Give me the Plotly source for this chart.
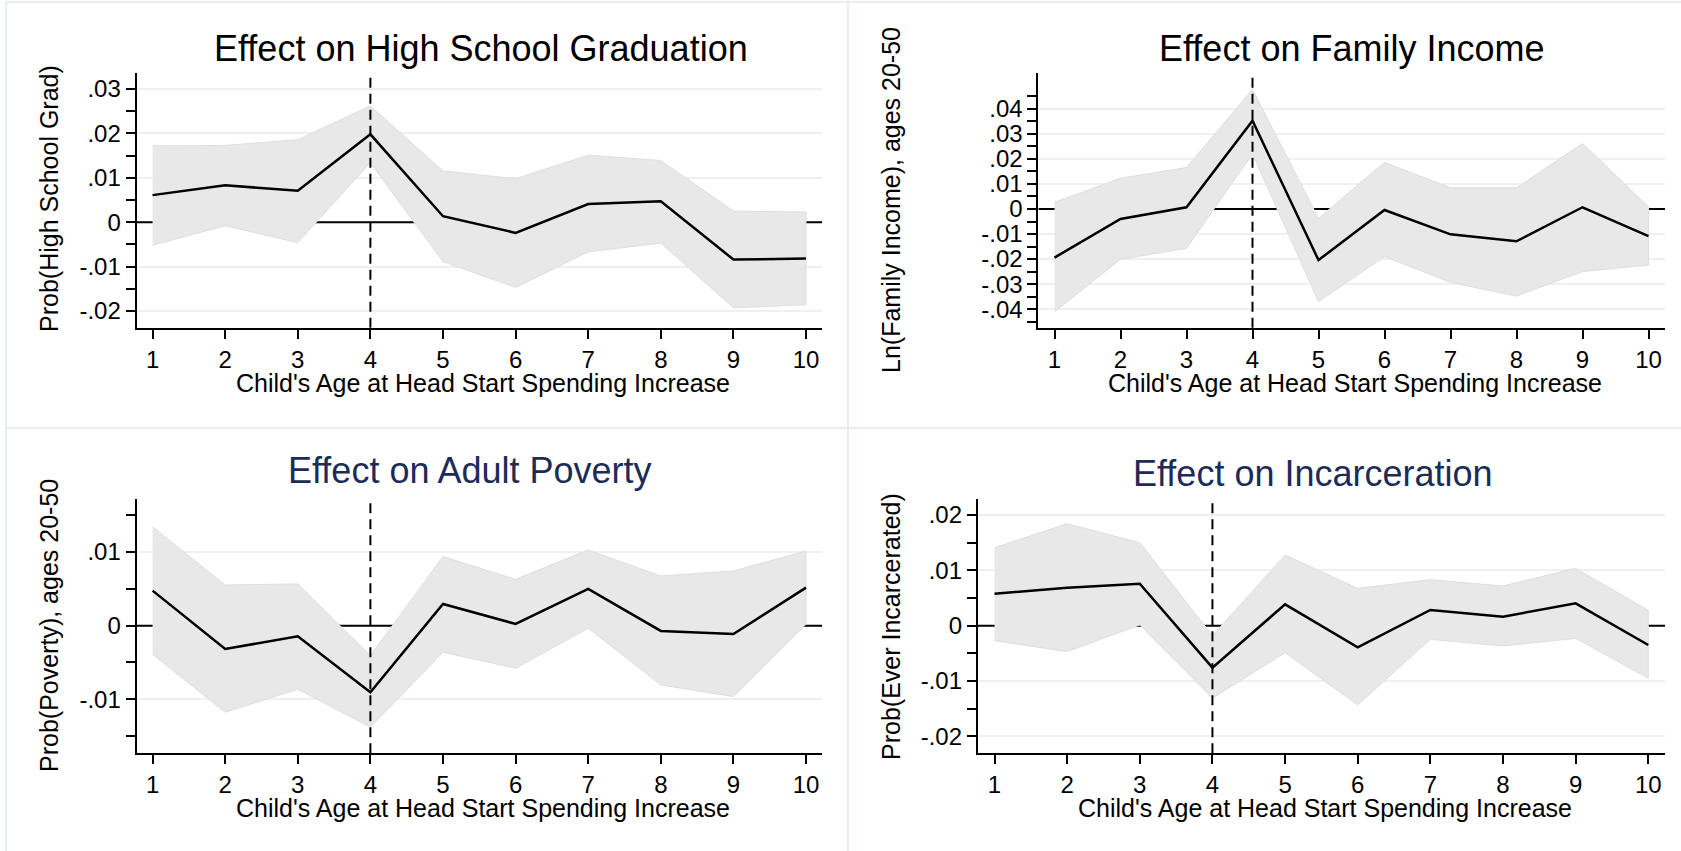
import plotly.graph_objects as go

W, H = 1681, 851

ages = [1, 2, 3, 4, 5, 6, 7, 8, 9, 10]
age_labels = ["1", "2", "3", "4", "5", "6", "7", "8", "9", "10"]

# Effect on High School Graduation
hs_est = [0.0061, 0.0083, 0.0071, 0.0198, 0.00135, -0.0024, 0.0041, 0.0047, -0.0084, -0.0082]
hs_hi = [0.0172, 0.0173, 0.0186, 0.0262, 0.01155, 0.0098, 0.0151, 0.0139, 0.0025, 0.0023]
hs_lo = [-0.0052, -0.0008, -0.0046, 0.0134, -0.0089, -0.0147, -0.0067, -0.0047, -0.0193, -0.0186]

# Effect on Family Income
inc_est = [-0.0194, -0.0040, 0.0007, 0.0353, -0.0204, -0.0004, -0.0101, -0.0129, 0.0007, -0.0108]
inc_hi = [0.0027, 0.0123, 0.0166, 0.0478, -0.0037, 0.0186, 0.0085, 0.0085, 0.0262, 0.0009]
inc_lo = [-0.0411, -0.0201, -0.0157, 0.0220, -0.0370, -0.0190, -0.0293, -0.0348, -0.0250, -0.0224]

# Effect on Adult Poverty
pov_est = [0.00475, -0.00317, -0.00145, -0.00905, 0.00294, 0.00023, 0.00498, -0.00072, -0.00113, 0.00516]
pov_hi = [0.01344, 0.00552, 0.00566, -0.00407, 0.00937, 0.00629, 0.01027, 0.00674, 0.00742, 0.01014]
pov_lo = [-0.00389, -0.01176, -0.00864, -0.0138, -0.00362, -0.00579, -0.00036, -0.00805, -0.00964, 0.0002]

# Effect on Incarceration
jail_est = [0.00577, 0.00686, 0.00758, -0.00758, 0.00385, -0.00391, 0.00283, 0.00162, 0.00403, -0.00349]
jail_hi = [0.01408, 0.01841, 0.01498, -0.0018, 0.01275, 0.00674, 0.0083, 0.00716, 0.01035, 0.00277]
jail_lo = [-0.00271, -0.00469, 0.00012, -0.01311, -0.00487, -0.01432, -0.00247, -0.00367, -0.00229, -0.0095]

# y tick values / labels
hs_ticks = [-0.02, -0.01, 0, 0.01, 0.02, 0.03]
hs_ticklabels = ["-.02", "-.01", "0", ".01", ".02", ".03"]
hs_minor = [-0.015, -0.005, 0.005, 0.015, 0.025]

inc_ticks = [-0.04, -0.03, -0.02, -0.01, 0, 0.01, 0.02, 0.03, 0.04]
inc_ticklabels = ["-.04", "-.03", "-.02", "-.01", "0", ".01", ".02", ".03", ".04"]
inc_minor = [-0.045, -0.035, -0.025, -0.015, -0.005, 0.005, 0.015, 0.025, 0.035, 0.045]

pov_ticks = [-0.01, 0, 0.01]
pov_ticklabels = ["-.01", "0", ".01"]
pov_minor = [-0.015, -0.005, 0.005, 0.015]

jail_ticks = [-0.02, -0.01, 0, 0.01, 0.02]
jail_ticklabels = ["-.02", "-.01", "0", ".01", ".02"]
jail_minor = [-0.015, -0.005, 0.005, 0.015]

titles = ["Effect on High School Graduation", "Effect on Family Income",
          "Effect on Adult Poverty", "Effect on Incarceration"]
ytitles = ["Prob(High School Grad)", "Ln(Family Income), ages 20-50",
           "Prob(Poverty), ages 20-50", "Prob(Ever Incarcerated)"]
xtitle = "Child's Age at Head Start Spending Increase"
event_age = 4
zero_level = 0

FONT = "Liberation Sans, Arial, Helvetica, sans-serif"
NAVY = "#1c2b57"
GRID = "#EAF2F3"
BAND = "#E8E8E8"

panels = [
    dict(est=hs_est, hi=hs_hi, lo=hs_lo, ticks=hs_ticks, labels=hs_ticklabels, minor=hs_minor,
         px=(136.6, 822), py=(73.3, 327.7), xr=(0.78, 10.22), yr=(-0.02376, 0.03354),
         tcol="black", tpos=(481, 48), ytpos=(49, 199), xtpos=(483, 383)),
    dict(est=inc_est, hi=inc_hi, lo=inc_lo, ticks=inc_ticks, labels=inc_ticklabels, minor=inc_minor,
         px=(1038.4, 1665), py=(73.3, 327.7), xr=(0.756, 10.25), yr=(-0.0474, 0.0542),
         tcol="black", tpos=(1352, 48), ytpos=(891, 200), xtpos=(1355, 383)),
    dict(est=pov_est, hi=pov_hi, lo=pov_lo, ticks=pov_ticks, labels=pov_ticklabels, minor=pov_minor,
         px=(136.6, 822), py=(499, 753.3), xr=(0.78, 10.22), yr=(-0.01733, 0.01719),
         tcol=NAVY, tpos=(469.5, 470), ytpos=(49, 626), xtpos=(483, 808)),
    dict(est=jail_est, hi=jail_hi, lo=jail_lo, ticks=jail_ticks, labels=jail_ticklabels, minor=jail_minor,
         px=(977.8, 1665), py=(499, 753.3), xr=(0.77, 10.23), yr=(-0.02304, 0.02286),
         tcol=NAVY, tpos=(1313, 473), ytpos=(891, 626), xtpos=(1325, 808)),
]

fig = go.Figure()
shapes = []
annotations = []
layout = {}

for i, p in enumerate(panels):
    n = "" if i == 0 else str(i + 1)
    xref, yref = "x" + n, "y" + n
    # zero reference line (drawn first, so it sits behind the band)
    fig.add_trace(go.Scatter(
        x=list(p["xr"]), y=[zero_level, zero_level], mode="lines",
        line=dict(color="black", width=2), cliponaxis=True,
        xaxis=xref, yaxis=yref, hoverinfo="skip", showlegend=False))
    # confidence band
    fig.add_trace(go.Scatter(
        x=ages + ages[::-1], y=p["hi"] + p["lo"][::-1],
        fill="toself", fillcolor=BAND, mode="lines",
        line=dict(color="#DEDEDE", width=1),
        xaxis=xref, yaxis=yref, hoverinfo="skip", showlegend=False))
    # point estimates
    fig.add_trace(go.Scatter(
        x=ages, y=p["est"], mode="lines",
        line=dict(color="black", width=2.5),
        xaxis=xref, yaxis=yref, showlegend=False))

    x0, x1 = p["px"][0] / W, p["px"][1] / W
    y1, y0 = 1 - p["py"][0] / H, 1 - p["py"][1] / H
    layout["xaxis" + n] = dict(
        domain=[x0, x1], range=list(p["xr"]), anchor=yref,
        tickmode="array", tickvals=ages, ticktext=age_labels,
        ticks="outside", ticklen=9, tickwidth=2, tickcolor="black",
        showline=True, linecolor="black", linewidth=2,
        showgrid=False, zeroline=False,
        tickfont=dict(family=FONT, size=24, color="black"),
        fixedrange=True)
    layout["yaxis" + n] = dict(
        domain=[y0, y1], range=list(p["yr"]), anchor=xref,
        tickmode="array", tickvals=p["ticks"], ticktext=p["labels"],
        ticks="outside", ticklen=9, tickwidth=2, tickcolor="black",
        showline=True, linecolor="black", linewidth=2,
        showgrid=True, gridcolor=GRID, gridwidth=2, zeroline=False,
        minor=dict(tickmode="array", tickvals=p["minor"], ticks="outside",
                   ticklen=9, tickwidth=2, tickcolor="black", showgrid=False),
        tickfont=dict(family=FONT, size=24, color="black"),
        fixedrange=True)

    # vertical dashed line at age 4
    shapes.append(dict(type="line", xref=xref, yref=yref + " domain",
                       x0=event_age, x1=event_age, y0=0, y1=1, layer="above",
                       line=dict(color="black", width=2, dash="10px,6px")))

    annotations.append(dict(text=titles[i], xref="paper", yref="paper",
                            x=p["tpos"][0] / W, y=1 - p["tpos"][1] / H,
                            xanchor="center", yanchor="middle", showarrow=False,
                            font=dict(family=FONT, size=36, color=p["tcol"])))
    annotations.append(dict(text=ytitles[i], xref="paper", yref="paper",
                            x=p["ytpos"][0] / W, y=1 - p["ytpos"][1] / H, textangle=-90,
                            xanchor="center", yanchor="middle", showarrow=False,
                            font=dict(family=FONT, size=25, color="black")))
    annotations.append(dict(text=xtitle, xref="paper", yref="paper",
                            x=p["xtpos"][0] / W, y=1 - p["xtpos"][1] / H,
                            xanchor="center", yanchor="middle", showarrow=False,
                            borderpad=0,
                            font=dict(family=FONT, size=25, color="black")))

# light panel frames
BORDER = "#E6EEF1"
for xp in (6, 848):
    shapes.append(dict(type="line", xref="paper", yref="paper", x0=xp / W, x1=xp / W,
                       y0=0, y1=1 - 2 / H, layer="below", line=dict(color=BORDER, width=2)))
for yp in (2, 428):
    shapes.append(dict(type="line", xref="paper", yref="paper", x0=6 / W, x1=1,
                       y0=1 - yp / H, y1=1 - yp / H, layer="below", line=dict(color=BORDER, width=2)))

fig.update_layout(**layout)
fig.update_layout(width=W, height=H, margin=dict(l=0, r=0, t=0, b=0),
                  paper_bgcolor="white", plot_bgcolor="white",
                  shapes=shapes, annotations=annotations, showlegend=False,
                  font=dict(family=FONT, color="black"))
fig.write_html("out.html", config={"displayModeBar": False},
               post_script="document.body.style.margin='0px';document.body.style.overflow='hidden';")
